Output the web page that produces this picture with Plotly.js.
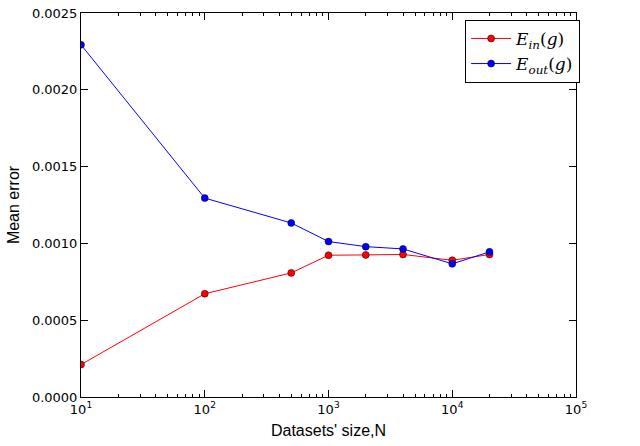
<!DOCTYPE html>
<html>
<head>
<meta charset="utf-8">
<script src="https://cdn.plot.ly/plotly-3.0.1.min.js"></script>
<style>html,body{margin:0;padding:0;background:#fff;}#chart{width:640px;height:446px;}</style>
</head>
<body>
<div id="chart"></div>
<script>
var sizes = [10, 100, 500, 1000, 2000, 4000, 10000, 20000];
var eIn = [0.000211, 0.000672, 0.000808, 0.000923, 0.000925, 0.000928, 0.000890, 0.000928];
var eOut = [0.002293, 0.001295, 0.001133, 0.001012, 0.000979, 0.000964, 0.000867, 0.000945];
var xTickVals = [10, 100, 1000, 10000, 100000];
var xTickText = ['10<sup>1</sup>', '10<sup>2</sup>', '10<sup>3</sup>', '10<sup>4</sup>', '10<sup>5</sup>'];
var yTickVals = [0, 0.0005, 0.0010, 0.0015, 0.0020, 0.0025];
var yTickText = ['0.0000', '0.0005', '0.0010', '0.0015', '0.0020', '0.0025'];
var seriesNames = ['<i>E</i><sub><i>in</i></sub>(<i>g</i>)', '<i>E</i><sub><i>out</i></sub>(<i>g</i>)'];

var traces = [
  {x: sizes, y: eIn, name: seriesNames[0], type: 'scatter', mode: 'lines+markers',
   line: {color: '#ff0000', width: 1}, marker: {color: '#ff0000', size: 7, line: {color: '#000', width: 0.5}}},
  {x: sizes, y: eOut, name: seriesNames[1], type: 'scatter', mode: 'lines+markers',
   line: {color: '#0000ff', width: 1}, marker: {color: '#0000ff', size: 7, line: {color: '#000', width: 0.5}}}
];

var tickFont = {family: 'DejaVu Sans', size: 13, color: '#000'};
var layout = {
  width: 640, height: 446,
  margin: {l: 81, r: 64, t: 12.5, b: 48.5},
  paper_bgcolor: '#fff', plot_bgcolor: '#fff',
  showlegend: true,
  legend: {x: 0.776, y: 0.982, xanchor: 'left', yanchor: 'top', bgcolor: '#fff',
           bordercolor: '#000', borderwidth: 1, itemwidth: 40,
           font: {family: 'DejaVu Serif', size: 17, color: '#000'}, tracegroupgap: 4},
  xaxis: {
    type: 'log', range: [1, 5], tickvals: xTickVals, ticktext: xTickText,
    ticks: 'inside', ticklen: 7, tickwidth: 1, tickcolor: '#000',
    showline: true, linecolor: '#000', linewidth: 1, mirror: 'allticks',
    showgrid: false, zeroline: false, tickfont: tickFont,
    minor: {dtick: 'D1', ticks: 'inside', ticklen: 3, tickcolor: '#000', showgrid: false},
    title: {text: "Datasets' size,N", font: {family: 'Liberation Sans', size: 16, color: '#000'}, standoff: 9}
  },
  yaxis: {
    range: [0, 0.0025], tickvals: yTickVals, ticktext: yTickText,
    ticks: 'inside', ticklen: 7, tickwidth: 1, tickcolor: '#000',
    showline: true, linecolor: '#000', linewidth: 1, mirror: 'allticks',
    showgrid: false, zeroline: false, tickfont: tickFont,
    title: {text: 'Mean error', font: {family: 'Liberation Sans', size: 16, color: '#000'}, standoff: 8}
  }
};
Plotly.newPlot('chart', traces, layout, {displayModeBar: false, staticPlot: true});
</script>
</body>
</html>
